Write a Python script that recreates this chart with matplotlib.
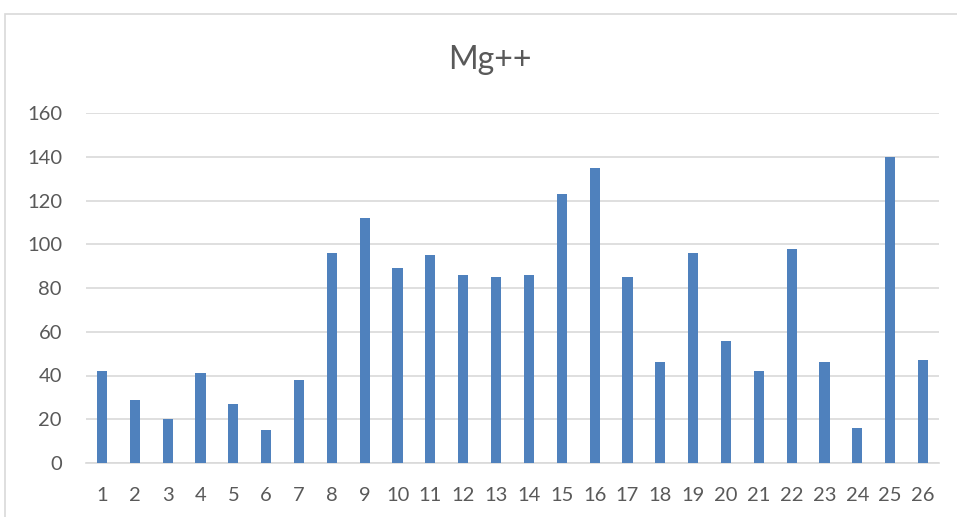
import matplotlib
matplotlib.use("Agg")
import matplotlib.pyplot as plt
from matplotlib.patches import Rectangle

# Magnesium concentration per sample
samples = [str(i) for i in range(1, 27)]
mg_values = [42, 29, 20, 41, 27, 15, 38, 96, 112, 89, 95, 86, 85, 86,
             123, 135, 85, 46, 96, 56, 42, 98, 46, 16, 140, 47]
y_ticks = [0, 20, 40, 60, 80, 100, 120, 140, 160]

W, H = 957, 517
plt.rcParams['font.family'] = ['Lato', 'DejaVu Sans']
fig = plt.figure(figsize=(W / 100, H / 100), dpi=100)

# chart frame
fig.add_artist(Rectangle((5 / W, -0.1), 1.2, (H - 14) / H + 0.1,
                         transform=fig.transFigure, fill=False,
                         edgecolor='#d9d9d9', linewidth=1.2))

ax = fig.add_axes([85.6 / W, 54 / H, 853.8 / W, 350 / H])
x = list(range(len(samples)))
ax.bar(x, mg_values, width=0.31, color='#4f81bd', zorder=3)
ax.set_xlim(-0.5, len(samples) - 0.5)
ax.set_ylim(0, 160)
ax.set_yticks(y_ticks)
ax.set_xticks(x)
ax.set_xticklabels(samples)
ax.grid(axis='y', color='#d9d9d9', linewidth=1.2, zorder=0)
for s in ['top', 'right', 'left']:
    ax.spines[s].set_visible(False)
ax.spines['bottom'].set_color('#d9d9d9')
ax.spines['bottom'].set_linewidth(1.2)
ax.tick_params(axis='both', length=0, labelsize=14.5, labelcolor='#595959')
ax.tick_params(axis='x', pad=17)
ax.tick_params(axis='y', pad=17)

fig.text(490 / W, 1 - 60 / H, 'Mg++', ha='center', va='center',
         fontsize=23, color='#595959')

fig.savefig('out.png', dpi=100)
